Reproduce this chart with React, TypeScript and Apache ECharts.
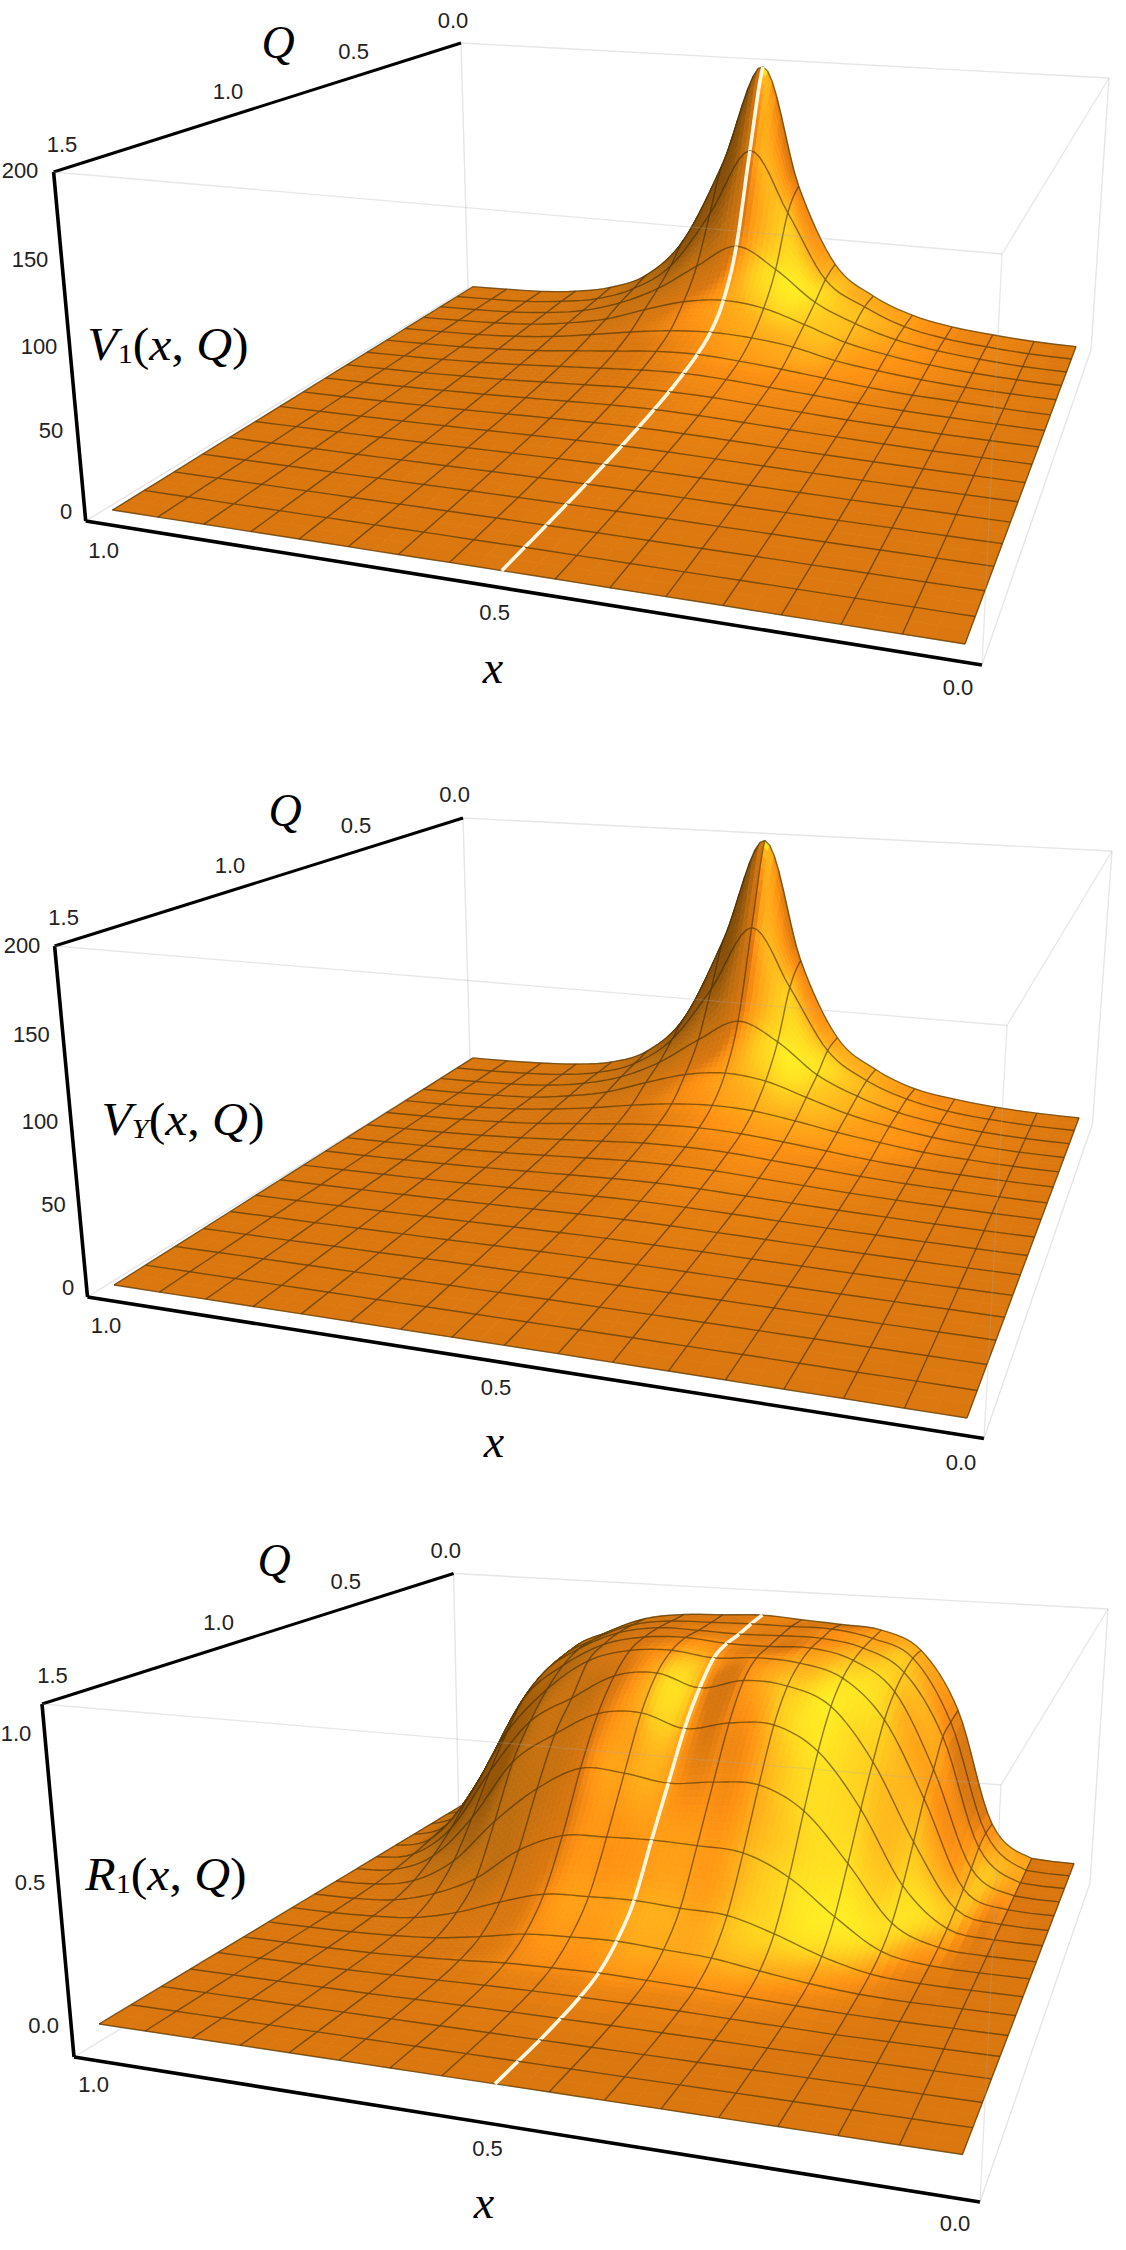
import React, { useEffect, useRef } from "react";
import * as echarts from "echarts";

// Rows run from Q = 0 (back) to Q = 1.5 (front); columns from x = 1 (left) to x = 0 (right).
const v1Rows = [
  [0.3,1,2,5,11,24,55,118,198,105,46,24,12,6,3,1,0.3],
  [0.3,1,2,5,10,21,42,85,137,91,42,24,12,6,3,1,0.3],
  [0.3,1,2,4.5,9,18,32,52,70,55,33,20,11,6,3,1,0.3],
  [0.3,1,2,4,8,14,24,33,37,34,25,15,9,5,2.5,1,0.3],
  [0.3,0.9,1.8,3.5,6.5,11,16,20,22,21,17.5,11,7,4,2,1,0.3],
  [0.2,0.8,1.5,3,5,8,11,14,15,13.5,11,8,5,3,2,0.8,0.2],
  [0.2,0.7,1.3,2.5,4,6,8,10,11,10,8,6,4,2.5,1.5,0.7,0.2],
  [0.2,0.6,1.1,2,3,4.5,6,7.5,8,7.5,6,4.5,3,2,1.1,0.6,0.2],
  [0.2,0.5,0.9,1.6,2.4,3.4,4.5,5.5,6,5.5,4.5,3.4,2.4,1.6,0.9,0.5,0.2],
  [0.1,0.4,0.7,1.2,1.8,2.5,3.3,4,4.4,4,3.3,2.5,1.8,1.2,0.7,0.4,0.1],
  [0.1,0.3,0.6,0.9,1.4,1.9,2.5,3,3.2,3,2.5,1.9,1.4,0.9,0.6,0.3,0.1],
  [0.1,0.3,0.5,0.7,1,1.4,1.8,2.1,2.3,2.1,1.8,1.4,1,0.7,0.5,0.3,0.1],
  [0.1,0.2,0.4,0.5,0.8,1,1.3,1.5,1.6,1.5,1.3,1,0.8,0.5,0.4,0.2,0.1],
  [0.1,0.2,0.3,0.4,0.6,0.7,0.9,1,1.1,1,0.9,0.7,0.6,0.4,0.3,0.2,0.1],
  [0,0.1,0.2,0.3,0.4,0.5,0.6,0.7,0.7,0.7,0.6,0.5,0.4,0.3,0.2,0.1,0],
  [0,0.1,0.1,0.2,0.3,0.3,0.4,0.4,0.5,0.4,0.4,0.3,0.3,0.2,0.1,0.1,0],
  [0,0,0.1,0.1,0.2,0.2,0.2,0.3,0.3,0.3,0.2,0.2,0.2,0.1,0.1,0,0],
];
const vyRows = [
  [0.1,0.5,1.5,3.5,8,20,50,115,195,102,44,22,10,5,2,0.5,0.1],
  [0.1,0.5,1.5,3.5,8,18,40,82,132,88,42,22,11,5,2,0.5,0.1],
  [0.1,0.5,1.5,3.5,8,16,30,50,67,54,32,19,10,5,2,0.5,0.1],
  [0.1,0.5,1.5,3,7,13,23,32,36,33,24,15,9,4.5,2,0.5,0.1],
  [0.1,0.5,1.3,3,6,10,15,19,21,20,16,11,7,3.5,1.7,0.5,0.1],
  [0.1,0.5,1.2,2.5,4.5,7.5,10.5,13,14,13,10.5,7.5,4.5,2.5,1.4,0.5,0.1],
  [0.1,0.4,1,2,3.5,5.5,7.5,9.5,10,9.5,7.5,5.5,3.5,2,1.2,0.4,0.1],
  [0.1,0.4,0.9,1.6,2.6,4,5.5,7,7.5,7,5.5,4,2.6,1.6,0.9,0.4,0.1],
  [0.1,0.3,0.7,1.3,2,3,4,5,5.5,5,4,3,2,1.3,0.7,0.3,0.1],
  [0.1,0.3,0.6,1,1.5,2.2,3,3.6,4,3.6,3,2.2,1.5,1,0.6,0.3,0.1],
  [0.1,0.2,0.5,0.8,1.2,1.7,2.2,2.7,2.9,2.7,2.2,1.7,1.2,0.8,0.5,0.2,0.1],
  [0.1,0.2,0.4,0.6,0.9,1.2,1.6,1.9,2.1,1.9,1.6,1.2,0.9,0.6,0.4,0.2,0.1],
  [0,0.2,0.3,0.5,0.7,0.9,1.2,1.4,1.5,1.4,1.2,0.9,0.7,0.5,0.3,0.2,0],
  [0,0.1,0.2,0.4,0.5,0.7,0.8,0.9,1,0.9,0.8,0.7,0.5,0.4,0.2,0.1,0],
  [0,0.1,0.2,0.3,0.4,0.5,0.6,0.6,0.7,0.6,0.6,0.5,0.4,0.3,0.2,0.1,0],
  [0,0.1,0.1,0.2,0.3,0.3,0.4,0.4,0.4,0.4,0.4,0.3,0.3,0.2,0.1,0.1,0],
  [0,0,0.1,0.1,0.2,0.2,0.2,0.3,0.3,0.3,0.2,0.2,0.2,0.1,0.1,0,0],
];
const r1Rows = [
  [0,0.1,0.47,0.77,0.875,0.95,0.98,0.99,1,0.99,0.98,0.966,0.887,0.63,0.14,0.005,0],
  [0,0.1,0.45,0.75,0.87,0.95,0.98,0.985,0.99,0.99,0.99,0.96,0.885,0.617,0.148,0.005,0],
  [0,0.09,0.4,0.72,0.86,0.945,0.98,0.98,0.975,0.98,0.98,0.95,0.857,0.594,0.136,0.005,0],
  [0,0.07,0.33,0.66,0.82,0.925,0.97,0.98,0.966,0.965,0.97,0.93,0.81,0.498,0.1,0.005,0],
  [0,0.05,0.25,0.55,0.75,0.887,0.944,0.957,0.937,0.95,0.94,0.89,0.73,0.42,0.07,0.004,0],
  [0,0.03,0.16,0.42,0.65,0.763,0.87,0.895,0.846,0.89,0.88,0.81,0.6,0.294,0.045,0.003,0],
  [0,0.015,0.09,0.27,0.52,0.65,0.75,0.767,0.717,0.754,0.76,0.669,0.456,0.173,0.025,0.002,0],
  [0,0.006,0.04,0.14,0.32,0.47,0.568,0.564,0.54,0.56,0.565,0.48,0.294,0.084,0.012,0,0],
  [0,0.002,0.015,0.06,0.14,0.27,0.346,0.358,0.364,0.36,0.35,0.275,0.146,0.037,0.005,0,0],
  [0,0,0.006,0.02,0.06,0.12,0.17,0.18,0.185,0.175,0.168,0.12,0.058,0.015,0.002,0,0],
  [0,0,0.002,0.008,0.02,0.045,0.075,0.085,0.09,0.08,0.07,0.045,0.022,0.006,0,0,0],
  [0,0,0,0.002,0.008,0.017,0.028,0.032,0.035,0.03,0.025,0.016,0.008,0.002,0,0,0],
  [0,0,0,0,0.003,0.006,0.01,0.012,0.013,0.012,0.01,0.006,0.003,0,0,0,0],
  [0,0,0,0,0,0.002,0.003,0.004,0.004,0.004,0.003,0.002,0,0,0,0,0],
  [0,0,0,0,0,0,0,0,0,0,0,0,0,0,0,0,0],
  [0,0,0,0,0,0,0,0,0,0,0,0,0,0,0,0,0],
  [0,0,0,0,0,0,0,0,0,0,0,0,0,0,0,0,0],
];
const vTickLabels = ["0", "50", "100", "150", "200"];
const rTickLabels = ["0.0", "0.5", "1.0"];
const qTickLabels = ["1.5", "1.0", "0.5", "0.0"];
const xTickLabels = ["1.0", "0.5", "0.0"];

type P = [number, number];
const panels: any[] = [
  {
    rows: v1Rows, zTop: 200, zSpan: 200, white: true,
    base: [[112.5,510],[965,644],[1076,347],[473,287]],
    lift: [[-31,-340],[19,-400],[18,-265],[-7,-239]],
    box: { tl:[53.6,172], bl:[85.7,521], qEnd:[461,43], xEnd:[982,665], tf:[1002,254], tb:[1109,78], bb:[1091,350], bk:[468,288] },
    zTicks: vTickLabels, zPos: [[66,511],[51,430],[39,346],[30,259],[20,170]],
    qPos: [[62,144],[228,91.5],[353.6,51],[453,20]],
    xPos: [[103.6,550],[494.6,612.5],[958,687.5]],
    qName: [278,42], xName: [493,667], fn: "V", sub: "1", fnPos: [168,344],
  },
  {
    rows: vyRows, zTop: 200, zSpan: 200, white: false,
    base: [[114,1285],[967,1418],[1079,1118],[473,1058]],
    lift: [[-32,-343],[22,-403],[19,-266],[-8,-240]],
    box: { tl:[54.6,946], bl:[87.5,1297], qEnd:[463,818], xEnd:[984,1438.5], tf:[1007,1025.5], tb:[1112,851], bb:[1092.5,1124], bk:[470,1060] },
    zTicks: vTickLabels, zPos: [[68,1287],[53.6,1204],[40,1121.5],[31.4,1034],[22,945]],
    qPos: [[63.6,917.5],[230,865],[356,825.5],[454.6,794]],
    xPos: [[106,1325],[496,1387],[961,1462]],
    qName: [285,810], xName: [494,1441], fn: "V", sub: "Y", fnPos: [183,1119],
  },
  {
    rows: r1Rows, zTop: 1, zSpan: 1.2, white: true,
    base: [[99,2024],[962.5,2154.5],[1074,1863.6],[464,1804]],
    lift: [[-27,-292],[17,-347],[15,-228],[-5,-208]],
    box: { tl:[42,1704], bl:[74,2057], qEnd:[453.6,1573.5], xEnd:[980,2202], tf:[1001,1785], tb:[1108,1609], bb:[1090,1883], bk:[459,1824] },
    zTicks: rTickLabels, zPos: [[43.6,2025],[30,1882],[16,1733]],
    qPos: [[52.5,1675],[218.6,1622.4],[345.7,1581.5],[445.7,1550]],
    xPos: [[93.6,2084.7],[487.5,2148.5],[955,2223]],
    qName: [274,1560], xName: [484,2202], fn: "R", sub: "1", fnPos: [166,1874],
  },
];

function makeHomography(q: P[]) {
  const [[x0,y0],[x1,y1],[x2,y2],[x3,y3]] = q;
  const sx = x0-x1+x2-x3, sy = y0-y1+y2-y3;
  const dx1 = x1-x2, dx2 = x3-x2, dy1 = y1-y2, dy2 = y3-y2;
  const den = dx1*dy2-dx2*dy1;
  const g = (sx*dy2-dx2*sy)/den, h = (dx1*sy-sx*dy1)/den;
  const a = x1-x0+g*x1, b = x3-x0+h*x3, d = y1-y0+g*y1, e = y3-y0+h*y3;
  return (u: number, v: number): P => {
    const w = g*u+h*v+1;
    return [(a*u+b*v+x0)/w, (d*u+e*v+y0)/w];
  };
}
panels.forEach((p) => {
  p.baseMap = makeHomography(p.base);
  p.topMap = makeHomography(p.base.map((c: P, i: number) => [c[0]+p.lift[i][0], c[1]+p.lift[i][1]]));
});

function cr(p0: number, p1: number, p2: number, p3: number, t: number) {
  const m1 = (p2-p0)/2, m2 = (p3-p1)/2, t2 = t*t, t3 = t2*t;
  return (2*t3-3*t2+1)*p1 + (t3-2*t2+t)*m1 + (-2*t3+3*t2)*p2 + (t3-t2)*m2;
}
const cl = (n: number) => Math.max(0, Math.min(16, n));
function height(rows: number[][], a: number, b: number) {
  a = Math.max(0, Math.min(16, a)); b = Math.max(0, Math.min(16, b));
  const ia = Math.min(15, Math.floor(a)), ib = Math.min(15, Math.floor(b));
  const ta = a-ia, tb = b-ib;
  const across = (r: number) => {
    const row = rows[cl(r)];
    return cr(row[cl(ia-1)], row[ia], row[ia+1], row[cl(ia+2)], ta);
  };
  return Math.max(0, cr(across(ib-1), across(ib), across(ib+1), across(ib+2), tb));
}
function project(p: any, a: number, b: number, z: number): P {
  const u = a/16, v = 1-b/16, w = z/p.zTop;
  const B = p.baseMap(u, v), T = p.topMap(u, v);
  return [B[0]+(T[0]-B[0])*w, B[1]+(T[1]-B[1])*w];
}

const RAMP: [number, number[]][] = [
  [-0.2,[112,64,4]], [0.15,[142,82,8]], [0.45,[186,108,14]], [0.74,[218,119,15]],
  [0.82,[255,146,18]], [0.9,[255,178,26]], [1.0,[255,236,34]],
];
const L = [0.5,-0.45,0.74];
function shade(p: any, a: number, b: number) {
  const d = 0.12, s = 16*0.4/p.zSpan;
  const du = (height(p.rows,a+d,b)-height(p.rows,a-d,b))/(2*d)*s;
  const dv = -(height(p.rows,a,b+d)-height(p.rows,a,b-d))/(2*d)*s;
  const n = Math.hypot(du,dv,1);
  let c = (-du*L[0]-dv*L[1]+L[2])/n;
  c = Math.max(-0.2, Math.min(1, c));
  for (let i = 1; i < RAMP.length; i++) {
    if (c <= RAMP[i][0]) {
      const [c0,k0] = RAMP[i-1], [c1,k1] = RAMP[i];
      const t = (c-c0)/(c1-c0);
      return `rgb(${k0.map((v,j)=>Math.round(v+(k1[j]-v)*t)).join(",")})`;
    }
  }
  return "rgb(255,236,34)";
}

const MESH = { stroke: "rgba(52,40,0,0.56)", lineWidth: 1.4, fill: null };
const WHITE = { stroke: "#fff7e0", lineWidth: 3.6, fill: null };

function renderCell(_: any, api: any) {
  const p = panels[api.value(0)], a = api.value(1), b = api.value(2);
  const r = p.rows;
  const cs = [r[b][a], r[b][a+1], r[b+1][a], r[b+1][a+1]];
  const rng = (Math.max(...cs)-Math.min(...cs))/p.zSpan;
  const sub = rng > 0.04 ? 8 : rng > 0.008 ? 5 : 2;
  const pt = (aa: number, bb: number) => api.coord(project(p, aa, bb, height(r, aa, bb)));
  const children: any[] = [];
  for (let j = 0; j < sub; j++) for (let i = 0; i < sub; i++) {
    const a0 = a+i/sub, a1 = a+(i+1)/sub, b0 = b+j/sub, b1 = b+(j+1)/sub;
    const col = shade(p, (a0+a1)/2, (b0+b1)/2);
    children.push({ type: "polygon", silent: true,
      shape: { points: [pt(a0,b0),pt(a1,b0),pt(a1,b1),pt(a0,b1)] },
      style: { fill: col, stroke: col, lineWidth: 0.7 } });
  }
  const line = (f: (t: number) => P, style: any) => {
    const pts: P[] = [];
    for (let k = 0; k <= sub; k++) { const q = f(k/sub); pts.push(pt(q[0], q[1])); }
    children.push({ type: "polyline", silent: true, shape: { points: pts }, style });
  };
  line((t) => [a+t, b], MESH);
  if (b === 15) line((t) => [a+t, b+1], MESH);
  if (a === 15) line((t) => [a+1, b+t], MESH);
  line((t) => [a, b+t], a === 8 && p.white ? WHITE : MESH);
  return { type: "group", children };
}

const AXIS = (w: number) => ({ stroke: "#000", lineWidth: w, fill: null });
const GREY_BACK = { stroke: "#e6e6e6", lineWidth: 1.4, fill: null };
const GREY_FRONT = { stroke: "rgba(170,170,170,0.28)", lineWidth: 1.3, fill: null };

function frameSegs(i: number, front: boolean) {
  const k = panels[i].box;
  return front
    ? [[k.tl,k.tf,1],[k.tf,k.xEnd,1],[k.tf,k.tb,1]]
    : [[k.qEnd,k.tb,1],[k.qEnd,k.bk,1],[k.tb,k.bb,1],[k.bb,k.xEnd,1],[k.bl,k.bk,1],[k.tl,k.qEnd,3],[k.tl,k.bl,3.6],[k.bl,k.xEnd,3.6]];
}
function renderSegs(front: boolean) {
  return (_: any, api: any) => {
    const segs = frameSegs(api.value(0), front);
    return { type: "group", children: segs.map((s: any) => ({
      type: "line", silent: true,
      shape: { x1: api.coord(s[0])[0], y1: api.coord(s[0])[1], x2: api.coord(s[1])[0], y2: api.coord(s[1])[1] },
      style: s[2] > 1 ? AXIS(s[2]) : front ? GREY_FRONT : GREY_BACK,
    })) };
  };
}

function textEl(text: string, pos: number[], size = 22) {
  return { type: "text", x: pos[0], y: pos[1], silent: true,
    style: { text, fontFamily: "Liberation Sans", fontSize: size, fill: "#222", align: "center", verticalAlign: "middle" } };
}
function mathEl(text: string, pos: number[], size: number) {
  return { type: "text", x: pos[0], y: pos[1], silent: true,
    style: { text, fontFamily: "Liberation Serif", fontStyle: "italic", fontSize: size, fill: "#000", align: "center", verticalAlign: "middle" } };
}
function fnEl(p: any) {
  const i = { fontFamily: "Liberation Serif", fontStyle: "italic", fontSize: 46, fill: "#000" };
  const u = { fontFamily: "Liberation Serif", fontSize: 46, fill: "#000" };
  const s = { fontFamily: "Liberation Serif", fontSize: 28, fill: "#000", verticalAlign: "bottom", fontStyle: p.sub === "Y" ? "italic" : "normal" };
  return { type: "text", x: p.fnPos[0], y: p.fnPos[1], scaleX: 1.08, silent: true,
    style: { text: `{i|${p.fn}}{s|${p.sub}}{u|(}{i|x}{u|, }{i|Q}{u|)}`, rich: { i, u, s }, align: "center", verticalAlign: "middle" } };
}

export default function App() {
  const ref = useRef<HTMLDivElement>(null);
  useEffect(() => {
    const chart = echarts.init(ref.current!, undefined, { renderer: "svg" });
    const cells: number[][] = [];
    panels.forEach((_, pi) => {
      for (let b = 0; b < 16; b++) for (let a = 0; a < 16; a++) cells.push([pi, a, b]);
    });
    const elements: any[] = [];
    panels.forEach((p) => {
      p.zTicks.forEach((t: string, i: number) => elements.push(textEl(t, p.zPos[i])));
      qTickLabels.forEach((t, i) => elements.push(textEl(t, p.qPos[i])));
      xTickLabels.forEach((t, i) => elements.push(textEl(t, p.xPos[i])));
      elements.push(mathEl("Q", p.qName, 46));
      elements.push(mathEl("x", p.xName, 46));
      elements.push(fnEl(p));
    });
    chart.setOption({
      animation: false,
      backgroundColor: "#fff",
      grid: { left: 0, right: 0, top: 0, bottom: 0, containLabel: false },
      xAxis: { type: "value", min: 0, max: 1126, show: false },
      yAxis: { type: "value", min: 0, max: 2250, inverse: true, show: false },
      tooltip: { show: false },
      graphic: { elements },
      series: [
        { type: "custom", coordinateSystem: "cartesian2d", silent: true, clip: false, z: 1, progressive: 0,
          data: panels.map((_, i) => [i]), renderItem: renderSegs(false) },
        { type: "custom", coordinateSystem: "cartesian2d", silent: true, clip: false, z: 2, progressive: 0,
          data: cells, renderItem: renderCell, encode: { x: 1, y: 2 } },
        { type: "custom", coordinateSystem: "cartesian2d", silent: true, clip: false, z: 3, progressive: 0,
          data: panels.map((_, i) => [i]), renderItem: renderSegs(true) },
      ],
    });
    return () => chart.dispose();
  }, []);
  return <div ref={ref} style={{ position: "absolute", left: 0, top: 0, width: 1126, height: 2250 }} />;
}
